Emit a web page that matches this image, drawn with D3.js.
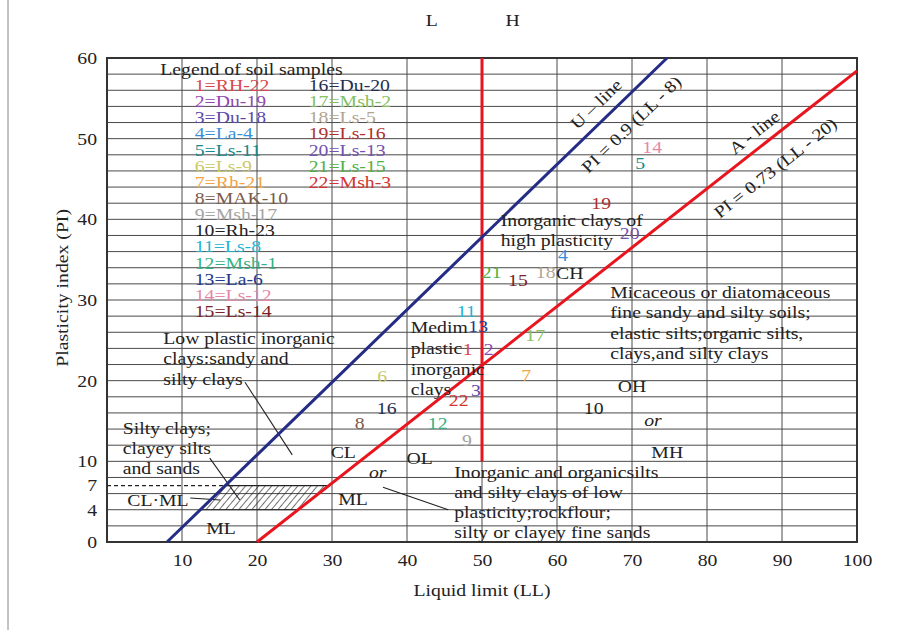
<!DOCTYPE html>
<html>
<head>
<meta charset="utf-8">
<script src="https://cdn.jsdelivr.net/npm/d3@7"></script>
<style>
  body { margin: 0; background: #fff; }
  text { font-family: "Liberation Serif", "Times New Roman", serif; fill: #222; }
</style>
</head>
<body>
<div id="chart"></div>
<script>
// soil samples
const sampleIds = [1, 2, 3, 4, 5, 6, 7, 8, 9, 10, 11, 12, 13, 14, 15, 16, 17, 18, 19, 20, 21, 22];
const sampleNames = ["RH-22", "Du-19", "Du-18", "La-4", "Ls-11", "Ls-9", "Rh-21", "MAK-10", "Msh-17", "Rh-23", "Ls-8",
  "Msh-1", "La-6", "Ls-12", "Ls-14", "Du-20", "Msh-2", "Ls-5", "Ls-16", "Ls-13", "Ls-15", "Msh-3"];
const sampleColors = ["#d9474a", "#9048b0", "#5c4aaa", "#3b8fd6", "#17898a", "#caca6a", "#f2a444", "#7b5a48", "#a3a3a3",
  "#1e1e1e", "#22b4d4", "#35b184", "#25388e", "#e587a6", "#7a2326", "#1f2f4f", "#85c062", "#b3a390", "#b0302f",
  "#7552b0", "#52b042", "#d23432"];
const liquidLimit = [48.1, 50.9, 49.2, 60.8, 71.1, 36.7, 55.9, 33.7, 48.0, 64.9, 47.9, 44.1, 49.5, 72.7, 54.8, 37.3,
  57.1, 58.5, 65.9, 69.7, 51.3, 46.9];
const plasticityIndex = [23.9, 23.9, 18.8, 35.6, 47.0, 20.6, 20.7, 14.8, 12.6, 16.6, 28.6, 14.8, 26.8, 49.0, 32.5, 16.6,
  25.7, 33.5, 42.0, 38.3, 33.5, 17.6];

// chart lines (LL, PI)
const uLine = [[8, 0], [74.67, 60]];
const aLine = [[20, 0], [100, 58.4]];
const llDivide = [[50, 10], [50, 60]];
const clmlZone = [[12.4, 4], [25.5, 4], [29.6, 7], [15.8, 7]];
const clmlDash = [[0, 7], [15.8, 7]];

const xTicks = [10, 20, 30, 40, 50, 60, 70, 80, 90, 100];
const yTicks = [0, 4, 7, 10, 20, 30, 40, 50, 60];

// text in the chart: [text, LL, PI, anchor, italic]
const zoneLabels = [
  ["Low plastic inorganic", 7.5, 25.3], ["clays:sandy and", 7.5, 22.8], ["silty clays", 7.5, 20.2],
  ["Silty clays;", 2.1, 14.1], ["clayey silts", 2.1, 11.7], ["and sands", 2.1, 9.2],
  ["Medim", 40.5, 26.6], ["plastic", 40.5, 24.0], ["inorganic", 40.5, 21.5], ["clays", 40.5, 19.0],
  ["Inorganic clays of", 52.5, 39.9], ["high plasticity", 52.5, 37.4],
  ["Micaceous or diatomaceous", 67.1, 31.0], ["fine sandy and silty soils;", 67.1, 28.5],
  ["elastic silts;organic silts,", 67.1, 25.9], ["clays,and silty clays", 67.1, 23.4],
  ["Inorganic and organicsilts", 46.3, 8.7], ["and silty clays of low", 46.3, 6.2],
  ["plasticity;rockflour;", 46.3, 3.7], ["silty or clayey fine sands", 46.3, 1.2],
  ["CH", 61.7, 33.3, "middle"], ["OH", 70.0, 19.3, "middle"], ["or", 72.8, 15.1, "middle", true],
  ["MH", 74.7, 11.2, "middle"], ["OL", 41.7, 10.4, "middle"], ["CL", 31.5, 11.2, "middle"],
  ["or", 36.1, 8.7, "middle", true], ["ML", 32.8, 5.3, "middle"], ["ML", 15.2, 1.7, "middle"],
  ["CL·ML", 6.8, 5.2, "middle"], ["L", 43.3, 64.7, "middle"], ["H", 54.1, 64.7, "middle"]
];
const leaders = [
  [[18.4, 19.8], [24.7, 10.8]],
  [[13.7, 10.4], [17.7, 5.2]],
  [[11.1, 5.45], [15.1, 5.2]],
  [[36.8, 6.8], [45.5, 4.0]]
];
// rotated line labels: [text, LL, PI, line]
const lineLabels = [
  ["U – line", 65.2, 54.3, uLine],
  ["PI = 0.9 (LL - 8)", 69.9, 51.8, uLine],
  ["A - line", 86.3, 50.8, aLine],
  ["PI = 0.73 (LL - 20)", 89.1, 46.4, aLine]
];

const width = 903, height = 630;
const margin = { top: 58, right: 46, bottom: 88, left: 107 };
const fontSize = 17, stretch = 1.16;

const svg = d3.select("#chart").append("svg")
  .attr("width", width)
  .attr("height", height);

const x = d3.scaleLinear().domain([0, 100]).range([margin.left, width - margin.right]);
const y = d3.scaleLinear().domain([0, 60]).range([height - margin.bottom, margin.top]);

// outer frame line of figure
svg.append("line")
  .attr("x1", 8).attr("x2", 8).attr("y1", 0).attr("y2", height)
  .attr("stroke", "#888").attr("stroke-width", 1);

const defs = svg.append("defs");
defs.append("pattern")
  .attr("id", "hatch")
  .attr("patternUnits", "userSpaceOnUse")
  .attr("width", 5).attr("height", 5)
  .attr("patternTransform", "rotate(40)")
  .append("line")
  .attr("x1", 0).attr("y1", 0).attr("x2", 0).attr("y2", 5)
  .attr("stroke", "#111").attr("stroke-width", 1.2);

// grid
svg.append("g")
  .selectAll("line")
  .data(d3.range(2, 60, 2))
  .enter().append("line")
  .attr("x1", x(0)).attr("x2", x(100))
  .attr("y1", d => y(d)).attr("y2", d => y(d))
  .attr("stroke", "#4a4a4a").attr("stroke-width", 1);

svg.append("g")
  .selectAll("line")
  .data(d3.range(10, 100, 10))
  .enter().append("line")
  .attr("y1", y(0)).attr("y2", y(60))
  .attr("x1", d => x(d)).attr("x2", d => x(d))
  .attr("stroke", "#4a4a4a").attr("stroke-width", 1);

svg.append("rect")
  .attr("x", x(0)).attr("y", y(60))
  .attr("width", x(100) - x(0)).attr("height", y(0) - y(60))
  .attr("fill", "none").attr("stroke", "#333").attr("stroke-width", 2);

const line = d3.line().x(d => x(d[0])).y(d => y(d[1]));

// CL-ML zone
svg.append("path")
  .attr("d", line(clmlZone) + "Z")
  .attr("fill", "url(#hatch)")
  .attr("stroke", "#222").attr("stroke-width", 1.2);

svg.append("path")
  .attr("d", line(clmlDash))
  .attr("fill", "none")
  .attr("stroke", "#222").attr("stroke-width", 1.2)
  .attr("stroke-dasharray", "4,3");

svg.append("g")
  .selectAll("path")
  .data(leaders)
  .enter().append("path")
  .attr("d", d => line(d))
  .attr("stroke", "#222").attr("stroke-width", 1.1);

svg.append("path").attr("d", line(llDivide))
  .attr("stroke", "#e8151f").attr("stroke-width", 3);
svg.append("path").attr("d", line(uLine))
  .attr("stroke", "#242c86").attr("stroke-width", 3);
svg.append("path").attr("d", line(aLine))
  .attr("stroke", "#e8151f").attr("stroke-width", 3);

// axes
const xAxis = svg.append("g")
  .attr("transform", `translate(0,${y(0)})`)
  .call(d3.axisBottom(x).tickValues(xTicks).tickSize(0).tickPadding(12));
const yAxis = svg.append("g")
  .attr("transform", `translate(${x(0)},0)`)
  .call(d3.axisLeft(y).tickValues(yTicks).tickSize(0).tickPadding(10));
[xAxis, yAxis].forEach(a => {
  a.select(".domain").remove();
  a.selectAll("text")
    .style("font-family", "Liberation Serif, Times New Roman, serif")
    .attr("font-size", fontSize).attr("fill", "#222");
});

svg.append("text")
  .attr("x", x(50)).attr("y", 596)
  .attr("text-anchor", "middle").attr("font-size", fontSize)
  .text("Liquid limit (LL)");
svg.append("text")
  .attr("transform", `translate(62,${y(31.5)}) rotate(-90)`)
  .attr("text-anchor", "middle").attr("dy", "0.35em").attr("font-size", fontSize)
  .text("Plasticity index (PI)");

// zone labels
svg.append("g")
  .selectAll("text")
  .data(zoneLabels)
  .enter().append("text")
  .attr("x", d => x(d[1])).attr("y", d => y(d[2]))
  .attr("dy", "0.35em")
  .attr("text-anchor", d => d[3] || "start")
  .attr("font-style", d => d[4] ? "italic" : null)
  .attr("font-size", fontSize)
  .text(d => d[0]);

// rotated line labels
svg.append("g")
  .selectAll("text")
  .data(lineLabels)
  .enter().append("text")
  .attr("transform", d => {
    const p = d[3];
    const ang = Math.atan2(y(p[1][1]) - y(p[0][1]), x(p[1][0]) - x(p[0][0])) * 180 / Math.PI;
    return `translate(${x(d[1])},${y(d[2])}) rotate(${ang})`;
  })
  .attr("dy", "0.35em")
  .attr("text-anchor", "middle")
  .attr("font-size", fontSize)
  .text(d => d[0]);

// samples plotted as numbers
svg.append("g")
  .selectAll("text")
  .data(sampleIds)
  .enter().append("text")
  .attr("x", (d, i) => x(liquidLimit[i]))
  .attr("y", (d, i) => y(plasticityIndex[i]))
  .attr("dy", "0.35em")
  .attr("text-anchor", "middle")
  .attr("font-size", fontSize)
  .style("fill", (d, i) => sampleColors[i])
  .text(d => d);

// legend
const legend = svg.append("g");
legend.append("text")
  .attr("x", x(7.1)).attr("y", y(57.9))
  .attr("font-size", fontSize)
  .text("Legend of soil samples");
legend.selectAll("text.entry")
  .data(sampleIds)
  .enter().append("text")
  .attr("class", "entry")
  .attr("x", (d, i) => i < 15 ? x(11.7) : x(26.9))
  .attr("y", (d, i) => y(55.9 - 2 * (i < 15 ? i : i - 15)))
  .attr("font-size", fontSize)
  .style("fill", (d, i) => sampleColors[i])
  .text((d, i) => d + "=" + sampleNames[i]);

// the original type is set a little wide
svg.selectAll("text").each(function () {
  const w = this.getComputedTextLength();
  if (w > 0) d3.select(this).attr("textLength", w * stretch).attr("lengthAdjust", "spacingAndGlyphs");
});
</script>
</body>
</html>
